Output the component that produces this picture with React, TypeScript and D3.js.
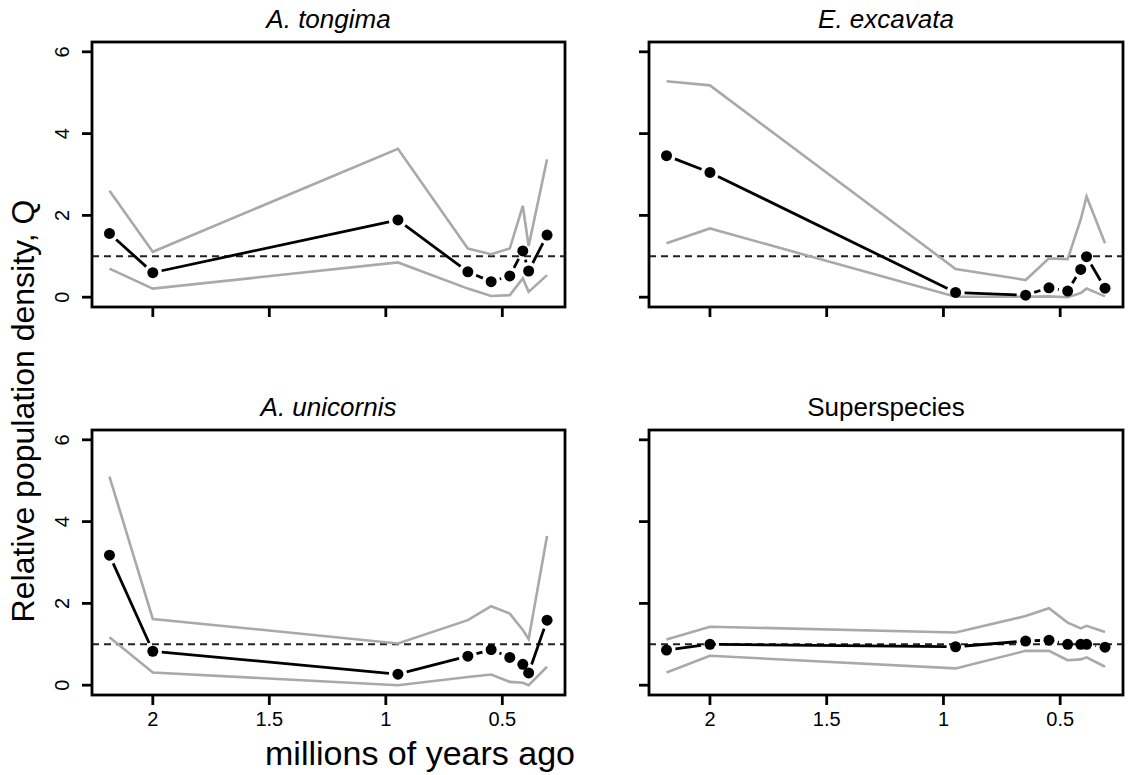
import React from "react";
import * as d3 from "d3";

const times = [2.186, 2.0, 0.948, 0.648, 0.548, 0.468, 0.412, 0.387, 0.308];

const tongimaQ = [1.56, 0.6, 1.89, 0.62, 0.38, 0.52, 1.13, 0.64, 1.52];
const tongimaUpper = [2.6, 1.11, 3.63, 1.19, 1.05, 1.19, 2.23, 1.25, 3.37];
const tongimaLower = [0.7, 0.21, 0.85, 0.21, 0.03, 0.05, 0.46, 0.13, 0.54];

const excavataQ = [3.46, 3.05, 0.115, 0.05, 0.23, 0.15, 0.68, 0.99, 0.22];
const excavataUpper = [5.28, 5.18, 0.69, 0.42, 0.95, 0.93, 1.9, 2.46, 1.32];
const excavataLower = [1.32, 1.68, 0.01, 0.01, 0.02, 0.0, 0.1, 0.21, 0.02];

const unicornisQ = [3.18, 0.83, 0.27, 0.71, 0.87, 0.68, 0.51, 0.3, 1.59];
const unicornisUpper = [5.1, 1.62, 1.02, 1.59, 1.93, 1.75, 1.35, 1.13, 3.65];
const unicornisLower = [1.17, 0.31, 0.0, 0.2, 0.26, 0.08, 0.06, 0.0, 0.45];

const superQ = [0.86, 1.0, 0.94, 1.08, 1.1, 1.0, 1.0, 1.0, 0.93];
const superUpper = [1.12, 1.43, 1.29, 1.69, 1.88, 1.53, 1.39, 1.45, 1.3];
const superLower = [0.31, 0.72, 0.41, 0.84, 0.84, 0.61, 0.63, 0.68, 0.45];

const xTicks = [2, 1.5, 1, 0.5];
const xTickLabels = ["2", "1.5", "1", "0.5"];
const yTicks = [0, 2, 4, 6];
const yTickLabels = ["0", "2", "4", "6"];

const panels = [
  { title: "A. tongima", italic: true, q: tongimaQ, up: tongimaUpper, lo: tongimaLower, col: 0, row: 0 },
  { title: "E. excavata", italic: true, q: excavataQ, up: excavataUpper, lo: excavataLower, col: 1, row: 0 },
  { title: "A. unicornis", italic: true, q: unicornisQ, up: unicornisUpper, lo: unicornisLower, col: 0, row: 1 },
  { title: "Superspecies", italic: false, q: superQ, up: superUpper, lo: superLower, col: 1, row: 1 },
];

const colX = [
  { left: 92, right: 565 },
  { left: 649, right: 1123 },
];
const rowY = [
  { top: 42, bottom: 307, titleY: 28 },
  { top: 430, bottom: 695, titleY: 416 },
];

const FONT = "'Liberation Sans', Arial, Helvetica, sans-serif";

function Panel({ p }: { p: any }) {
  const c = colX[p.col];
  const r = rowY[p.row];
  const x = d3.scaleLinear().domain([2.261, 0.231]).range([c.left, c.right]);
  const y = d3.scaleLinear().domain([-0.24, 6.24]).range([r.bottom, r.top]);
  const line = d3
    .line<number>()
    .x((_, i) => x(times[i]))
    .y((d) => y(d));

  const pts = p.q.map((v: number, i: number) => [x(times[i]), y(v)]);
  const gap = 9;
  const segs: any[] = [];
  for (let i = 0; i < pts.length - 1; i++) {
    const [x1, y1] = pts[i];
    const [x2, y2] = pts[i + 1];
    const dx = x2 - x1;
    const dy = y2 - y1;
    const len = Math.sqrt(dx * dx + dy * dy);
    if (len <= 2 * gap) continue;
    const ux = dx / len;
    const uy = dy / len;
    segs.push([x1 + ux * gap, y1 + uy * gap, x2 - ux * gap, y2 - uy * gap]);
  }

  const showXLabels = p.row === 1;
  const showYLabels = p.col === 0;

  return (
    <g>
      <defs>
        <clipPath id={`clip-${p.col}-${p.row}`}>
          <rect x={c.left} y={r.top} width={c.right - c.left} height={r.bottom - r.top} />
        </clipPath>
      </defs>
      <g clipPath={`url(#clip-${p.col}-${p.row})`}>
        <line
          x1={c.left}
          x2={c.right}
          y1={y(1)}
          y2={y(1)}
          stroke="#222"
          strokeWidth={2}
          strokeDasharray="7,5"
        />
        <path d={line(p.up) || ""} fill="none" stroke="#a9a9a9" strokeWidth={2.6} />
        <path d={line(p.lo) || ""} fill="none" stroke="#a9a9a9" strokeWidth={2.6} />
        {segs.map((s, i) => (
          <line key={i} x1={s[0]} y1={s[1]} x2={s[2]} y2={s[3]} stroke="#000" strokeWidth={2.8} />
        ))}
        {pts.map((pt: number[], i: number) => (
          <circle key={i} cx={pt[0]} cy={pt[1]} r={5.5} fill="#000" />
        ))}
      </g>
      <rect
        x={c.left}
        y={r.top}
        width={c.right - c.left}
        height={r.bottom - r.top}
        fill="none"
        stroke="#000"
        strokeWidth={2.8}
      />
      {xTicks.map((t, i) => (
        <g key={i}>
          <line x1={x(t)} x2={x(t)} y1={r.bottom} y2={r.bottom + 10} stroke="#000" strokeWidth={2.8} />
          {showXLabels && (
            <text
              x={x(t)}
              y={r.bottom + 31}
              textAnchor="middle"
              fontFamily={FONT}
              fontSize={20}
              fill="#000"
            >
              {xTickLabels[i]}
            </text>
          )}
        </g>
      ))}
      {yTicks.map((t, i) => (
        <g key={i}>
          <line x1={c.left} x2={c.left - 10} y1={y(t)} y2={y(t)} stroke="#000" strokeWidth={2.8} />
          {showYLabels && (
            <text
              transform={`translate(${c.left - 23},${y(t)}) rotate(-90)`}
              textAnchor="middle"
              fontFamily={FONT}
              fontSize={20}
              fill="#000"
            >
              {yTickLabels[i]}
            </text>
          )}
        </g>
      ))}
      <text
        x={(c.left + c.right) / 2}
        y={r.titleY}
        textAnchor="middle"
        fontFamily={FONT}
        fontSize={26}
        fontStyle={p.italic ? "italic" : "normal"}
        fill="#000"
      >
        {p.title}
      </text>
    </g>
  );
}

export default function App() {
  return (
    <div style={{ position: "absolute", left: 0, top: 0 }}>
      <svg width={1130} height={775} style={{ display: "block", background: "#fff" }}>
        <rect x={0} y={0} width={1130} height={775} fill="#fff" />
        {panels.map((p, i) => (
          <Panel key={i} p={p} />
        ))}
        <text
          transform="translate(34,411) rotate(-90)"
          textAnchor="middle"
          fontFamily={FONT}
          fontSize={32}
          fill="#000"
        >
          Relative population density, Q
        </text>
        <text x={420} y={765} textAnchor="middle" fontFamily={FONT} fontSize={34} fill="#000">
          millions of years ago
        </text>
      </svg>
    </div>
  );
}
